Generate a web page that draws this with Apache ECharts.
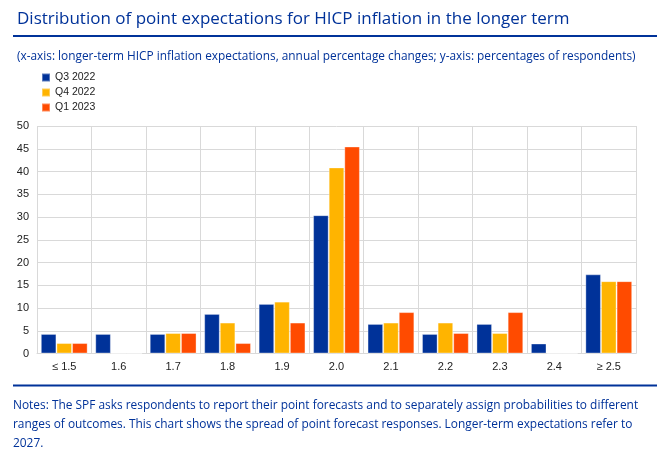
<!DOCTYPE html>
<html><head><meta charset="utf-8">
<script src="https://cdn.jsdelivr.net/npm/echarts@6/dist/echarts.min.js"></script>
<style>html,body{margin:0;padding:0;background:#fff}#c{width:670px;height:465px}</style>
</head><body><div id="c"></div>
<script>
const categories = ['\u2264 1.5','1.6','1.7','1.8','1.9','2.0','2.1','2.2','2.3','2.4','\u2265 2.5'];
const seriesNames = ['Q3 2022','Q4 2022','Q1 2023'];
const q3_2022 = [4.3, 4.3, 4.3, 8.7, 10.9, 30.4, 6.5, 4.3, 6.5, 2.2, 17.4];
const q4_2022 = [2.3, 0, 4.5, 6.8, 11.4, 40.9, 6.8, 6.8, 4.5, 0, 15.9];
const q1_2023 = [2.3, 0, 4.5, 2.3, 6.8, 45.5, 9.1, 4.5, 9.1, 0, 15.9];
const yTicks = {min:0, max:50, interval:5};
const titleText = 'Distribution of point expectations for HICP inflation in the longer term';
const subText = '(x-axis: longer-term HICP inflation expectations, annual percentage changes; y-axis: percentages of respondents)';
const notesLines = [
 'Notes: The SPF asks respondents to report their point forecasts and to separately assign probabilities to different',
 'ranges of outcomes. This chart shows the spread of point forecast responses. Longer-term expectations refer to',
 '2027.'
];
const colors = ['#003299','#FFB400','#FF4B00'];
const values = [q3_2022, q4_2022, q1_2023];

const chart = echarts.init(document.getElementById('c'));
chart.setOption({
  animation:false,
  color: colors,
  title:[
    {text:titleText, left:12, top:6, textStyle:{fontFamily:'Open Sans', fontSize:17, fontWeight:'normal', color:'#003299'}},
    {text:subText, left:12, top:46, textStyle:{fontFamily:'Open Sans', fontSize:11.85, fontWeight:'normal', color:'#003299'}}
  ],
  legend:{
    orient:'vertical', left:36, top:67, padding:[5,5,5,5], itemWidth:8, itemHeight:8, itemGap:4, icon:'rect',
    textStyle:{fontFamily:'Liberation Sans', fontSize:10.5, color:'#222', lineHeight:10, height:10},
    data: seriesNames
  },
  grid:{left:37, right:34, top:126, bottom:111.5, containLabel:false},
  xAxis:{
    type:'category', data:categories, boundaryGap:true,
    axisLine:{lineStyle:{color:'#d9d9d9', width:1}},
    axisTick:{show:false},
    splitLine:{show:true, lineStyle:{color:'#d9d9d9', width:1}},
    axisLabel:{fontFamily:'Liberation Sans', fontSize:11, color:'#222', margin:8}
  },
  yAxis:{
    type:'value', min:yTicks.min, max:yTicks.max, interval:yTicks.interval,
    axisLine:{show:false}, axisTick:{show:false},
    splitLine:{lineStyle:{color:'#d9d9d9', width:1}},
    axisLabel:{fontFamily:'Liberation Sans', fontSize:11, color:'#222', margin:8}
  },
  series: seriesNames.map((n,i)=>({
    name:n, type:'bar', data:values[i], barGap:'0%', barCategoryGap:'14%',
    itemStyle:{color:colors[i], borderColor:'rgba(255,255,255,0.35)', borderWidth:1}
  })),
  graphic:[
    {type:'line', shape:{x1:13,y1:36,x2:657,y2:36}, style:{stroke:'#003299', lineWidth:2}},
    {type:'line', shape:{x1:13,y1:385.5,x2:657,y2:385.5}, style:{stroke:'#003299', lineWidth:2}},
    {type:'text', left:13, top:396, style:{text:notesLines.join('\n'), fontFamily:'Open Sans', fontSize:11.9, lineHeight:19, fill:'#003299'}}
  ]
});
</script></body></html>
